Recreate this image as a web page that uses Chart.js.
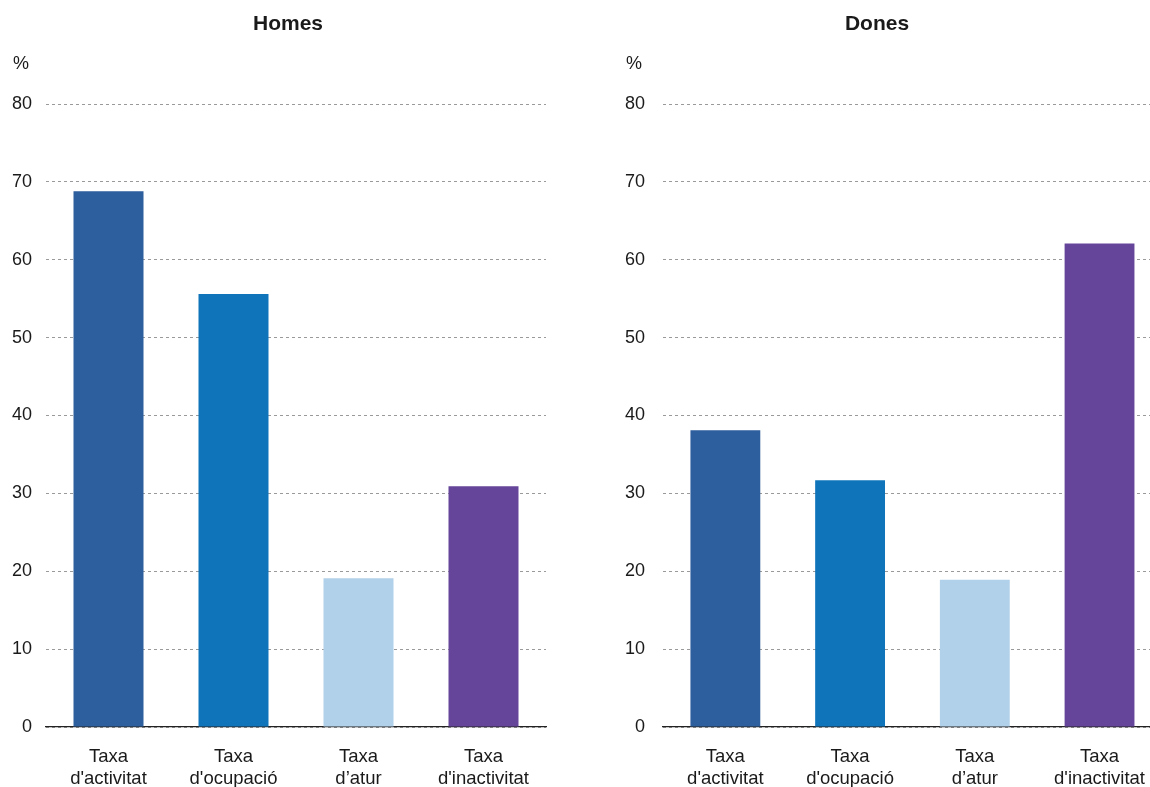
<!DOCTYPE html>
<html>
<head>
<meta charset="utf-8">
<script src="https://cdn.jsdelivr.net/npm/chart.js@4"></script>
<style>
  html, body { margin: 0; padding: 0; background: #fff; overflow: hidden; }
  body { width: 1150px; height: 787px; position: relative; }
  #homes { position: absolute; left: 0; top: 0; }
  #dones { position: absolute; left: 590px; top: 0; }
</style>
</head>
<body>
<canvas id="homes" width="576" height="787"></canvas>
<canvas id="dones" width="574" height="787"></canvas>
<script>
const categories = [
    ['Taxa', "d'activitat"],
    ['Taxa', "d'ocupació"],
    ['Taxa', 'd’atur'],
    ['Taxa', "d'inactivitat"],
];
const homesValues = [68.8, 55.6, 19.1, 30.9];
const donesValues = [38.1, 31.7, 18.9, 62.1];
const barColors = ['#2d5e9d', '#1074bb', '#b0d1e9', '#644599'];
const yMin = 0;
const yMax = 80;
const yStep = 10;

const FONT = '"Liberation Sans", Arial, Helvetica, sans-serif';
const INK = '#1a1a1a';

// draws the panel title (centred on the canvas) and the "%" unit label
const panelText = {
    id: 'panelText',
    afterDraw(chart, args, opts) {
        const ctx = chart.ctx;
        ctx.save();
        ctx.fillStyle = INK;
        ctx.textBaseline = 'middle';
        ctx.textAlign = 'center';
        ctx.font = 'bold 21px ' + FONT;
        ctx.fillText(opts.title, chart.width / 2, 24);
        ctx.textAlign = 'left';
        ctx.font = '18px ' + FONT;
        ctx.fillText('%', opts.unitX, 64);
        ctx.restore();
    },
};

function makeChart(id, values, title, axisWidth, tickPad, unitX) {
    return new Chart(document.getElementById(id), {
        type: 'bar',
        data: {
            labels: categories,
            datasets: [{
                data: values,
                backgroundColor: barColors,
                borderWidth: 0,
                barPercentage: 0.56,
                categoryPercentage: 1,
            }],
        },
        options: {
            responsive: false,
            animation: false,
            devicePixelRatio: 1,
            layout: { padding: { top: 104, left: 0, right: id === 'homes' ? 30 : 0, bottom: 0 } },
            plugins: {
                legend: { display: false },
                tooltip: { enabled: false },
                title: { display: false },
                panelText: { title: title, unitX: unitX },
            },
            scales: {
                x: {
                    grid: { display: false, drawTicks: false },
                    border: { display: true, color: '#222', width: 1.3 },
                    ticks: {
                        color: INK,
                        font: { family: FONT, size: 18.5 },
                        padding: 19,
                        maxRotation: 0,
                        autoSkip: false,
                    },
                    afterFit: (scale) => { scale.height = 60; },
                },
                y: {
                    min: yMin,
                    max: yMax,
                    grid: { color: '#9a9a9a', lineWidth: 1, drawTicks: false },
                    border: { display: false, dash: [3, 3] },
                    ticks: {
                        stepSize: yStep,
                        color: INK,
                        font: { family: FONT, size: 18 },
                        padding: tickPad,
                    },
                    afterFit: (scale) => { scale.width = axisWidth; },
                },
            },
        },
        plugins: [panelText],
    });
}

makeChart('homes', homesValues, 'Homes', 46, 14, 13);
makeChart('dones', donesValues, 'Dones', 73, 18, 626 - 590);
</script>
</body>
</html>
